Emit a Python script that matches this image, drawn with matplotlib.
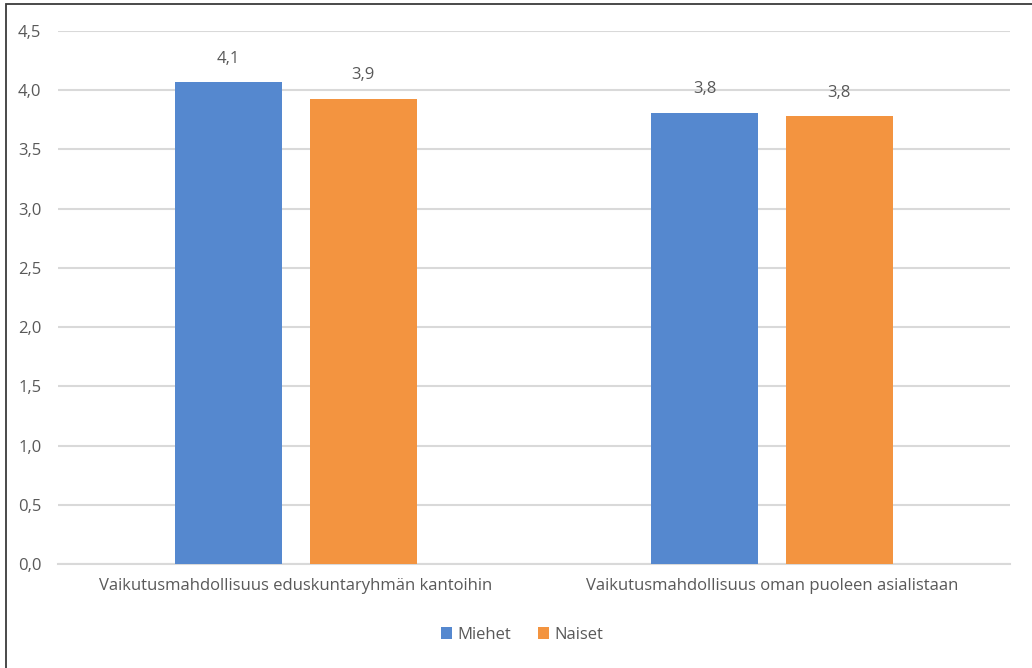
import matplotlib
matplotlib.use("Agg")
import matplotlib.pyplot as plt
import numpy as np
from matplotlib.patches import Rectangle

categories = ["Vaikutusmahdollisuus eduskuntaryhmän kantoihin",
              "Vaikutusmahdollisuus oman puoleen asialistaan"]
miehet = [4.07, 3.81]
naiset = [3.93, 3.78]
labels_m = ["4,1", "3,8"]
labels_n = ["3,9", "3,8"]
yticks = [0, 0.5, 1.0, 1.5, 2.0, 2.5, 3.0, 3.5, 4.0, 4.5]

BLUE = "#5588CF"
ORANGE = "#F39440"
TXT = "#595959"
FS = 12
plt.rcParams['font.family'] = ['Open Sans', 'DejaVu Sans']

fig = plt.figure(figsize=(10.32, 6.68), dpi=100)
W, H = 1032, 668
ax = fig.add_axes([58/W, 1-564/H, (1010-58)/W, (564-31)/H])

x = np.arange(len(categories))
bw = 0.224
off = 0.1415
b1 = ax.bar(x - off, miehet, bw, color=BLUE, label="Miehet", zorder=3)
b2 = ax.bar(x + off, naiset, bw, color=ORANGE, label="Naiset", zorder=3)
for rect, lab in zip(b1, labels_m):
    ax.annotate(lab, (rect.get_x()+rect.get_width()/2, rect.get_height()),
                xytext=(0, 11), textcoords="offset points", ha="center", va="bottom",
                fontsize=FS, color=TXT)
for rect, lab in zip(b2, labels_n):
    ax.annotate(lab, (rect.get_x()+rect.get_width()/2, rect.get_height()),
                xytext=(0, 11), textcoords="offset points", ha="center", va="bottom",
                fontsize=FS, color=TXT)

ax.set_xlim(-0.5, 1.5)
ax.set_ylim(0, 4.5)
ax.set_yticks(yticks)
ax.set_yticklabels([f"{v:.1f}".replace(".", ",") for v in yticks], fontsize=FS, color=TXT)
ax.set_xticks(x)
ax.set_xticklabels(categories, fontsize=FS, color=TXT)
ax.tick_params(axis="both", length=0)
ax.tick_params(axis="y", pad=12)
ax.tick_params(axis="x", pad=10)
ax.grid(axis="y", color="#D9D9D9", linewidth=1.5, zorder=0)
for s in ["top", "right", "left"]:
    ax.spines[s].set_visible(False)
ax.spines["bottom"].set_color("#D9D9D9")
ax.spines["bottom"].set_linewidth(1.5)

leg = fig.legend(loc="center", bbox_to_anchor=(522/W, 1-635/H), ncol=2, frameon=False,
                 fontsize=FS, handlelength=0.7, handleheight=0.7, handletextpad=0.3,
                 columnspacing=1.6)
for t in leg.get_texts():
    t.set_color(TXT)

fig.patches.append(Rectangle((6/W, -0.1), 1.2, 1-4/H+0.1, transform=fig.transFigure,
                             fill=False, edgecolor="#3a3a3a", linewidth=1.3))

fig.savefig("out.png", dpi=100)
